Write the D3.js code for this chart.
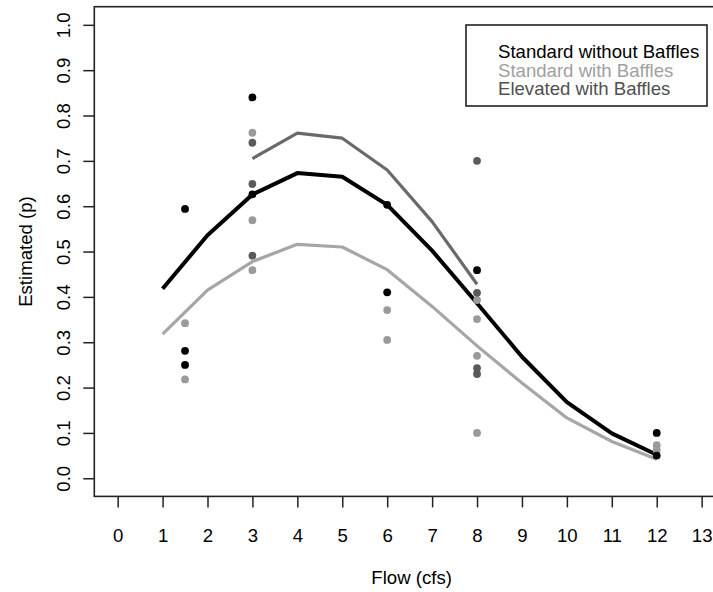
<!DOCTYPE html>
<html>
<head>
<meta charset="utf-8">
<script src="https://cdn.jsdelivr.net/npm/d3@7"></script>
<style>
  html, body { margin: 0; padding: 0; background: #fff; overflow: hidden; }
  svg { display: block; font-family: "Liberation Sans", Arial, sans-serif; }
</style>
</head>
<body>
<svg id="chart" width="713" height="592"></svg>
<script>
// ---- data ----
const flowTicks = [0,1,2,3,4,5,6,7,8,9,10,11,12,13];
const pTicks = [0.0,0.1,0.2,0.3,0.4,0.5,0.6,0.7,0.8,0.9,1.0];

const seriesNames = ["Standard without Baffles", "Standard with Baffles", "Elevated with Baffles"];

// fitted curves
const stdNoBafCurveX = [1,2,3,4,5,6,7,8,9,10,11,12];
const stdNoBafCurveY = [0.418,0.536,0.626,0.673,0.665,0.603,0.502,0.386,0.268,0.168,0.099,0.052];
const stdBafCurveX = [1,2,3,4,5,6,7,8,9,10,11,12];
const stdBafCurveY = [0.318,0.415,0.478,0.516,0.510,0.460,0.379,0.292,0.210,0.133,0.081,0.042];
const elevCurveX = [3,4,5,6,7,8];
const elevCurveY = [0.705,0.761,0.750,0.680,0.566,0.428];

// observed points
const stdNoBafPtsX = [1.5,1.5,1.5,3,3,6,6,8,12,12];
const stdNoBafPtsY = [0.594,0.281,0.250,0.840,0.626,0.603,0.410,0.459,0.100,0.050];
const stdBafPtsX = [1.5,1.5,3,3,3,6,6,8,8,8,8,12,12];
const stdBafPtsY = [0.342,0.218,0.762,0.569,0.459,0.371,0.305,0.393,0.351,0.270,0.100,0.073,0.062];
const elevPtsX = [3,3,3,8,8,8,8];
const elevPtsY = [0.740,0.649,0.491,0.700,0.409,0.243,0.230];

// ---- layout ----
const svg = d3.select("#chart");
const FS = 18.6;
const plotLeft = 94.3, plotRight = 725, plotTop = 6.7, plotBottom = 496.4;
const x = d3.scaleLinear().domain([-0.52, 13.52]).range([plotLeft, plotRight]);
const y = d3.scaleLinear().domain([-0.04, 1.04]).range([plotBottom, plotTop]);

const colors = { black: "#000000", light: "#a6a6a6", dark: "#6a6a6a" };
const ptColors = { black: "#000000", light: "#9a9a9a", dark: "#5a5a5a" };

// axes
const xAxis = d3.axisBottom(x).tickValues(flowTicks).tickFormat(d3.format("d")).tickSize(11).tickPadding(21);
const gx = svg.append("g").attr("transform", `translate(0,${plotBottom})`).call(xAxis);
gx.select(".domain").remove();
gx.selectAll(".tick line").attr("stroke", "#222").attr("stroke-width", 1.5);
gx.selectAll(".tick text").attr("font-size", FS).attr("fill", "#000").attr("font-family", "Liberation Sans, Arial, sans-serif");

const yAxis = d3.axisLeft(y).tickValues(pTicks).tickFormat(d3.format(".1f")).tickSize(11);
const gy = svg.append("g").attr("transform", `translate(${plotLeft},0)`).call(yAxis);
gy.select(".domain").remove();
gy.selectAll(".tick line").attr("stroke", "#222").attr("stroke-width", 1.5);
gy.selectAll(".tick text")
  .attr("font-size", FS).attr("fill", "#000").attr("font-family", "Liberation Sans, Arial, sans-serif")
  .attr("text-anchor", "middle").attr("dy", null).attr("x", null)
  .attr("transform", "translate(-24.5,0) rotate(-90)");

// box
svg.append("rect")
  .attr("x", plotLeft).attr("y", plotTop)
  .attr("width", plotRight - plotLeft).attr("height", plotBottom - plotTop)
  .attr("fill", "none").attr("stroke", "#222").attr("stroke-width", 1.6);

// axis titles
svg.append("text").attr("x", (plotLeft + plotRight) / 2 + 2).attr("y", 584)
  .attr("text-anchor", "middle").attr("font-size", FS).text("Flow (cfs)");
svg.append("text").attr("transform", `translate(32,${(plotTop + plotBottom) / 2}) rotate(-90)`)
  .attr("text-anchor", "middle").attr("font-size", FS).text("Estimated (p)");

// curves
const line = d3.line().x(d => x(d[0])).y(d => y(d[1]));
const curves = [
  { xs: stdBafCurveX, ys: stdBafCurveY, c: colors.light, w: 3.2 },
  { xs: elevCurveX, ys: elevCurveY, c: colors.dark, w: 3.2 },
  { xs: stdNoBafCurveX, ys: stdNoBafCurveY, c: colors.black, w: 4 }
];
curves.forEach(s => {
  svg.append("path")
    .datum(d3.zip(s.xs, s.ys))
    .attr("d", line)
    .attr("fill", "none").attr("stroke", s.c).attr("stroke-width", s.w)
    .attr("stroke-linejoin", "round");
});

// points
const pts = [
  { xs: stdBafPtsX, ys: stdBafPtsY, c: ptColors.light },
  { xs: elevPtsX, ys: elevPtsY, c: ptColors.dark },
  { xs: stdNoBafPtsX, ys: stdNoBafPtsY, c: ptColors.black }
];
pts.forEach(s => {
  svg.append("g").selectAll("circle")
    .data(d3.zip(s.xs, s.ys))
    .join("circle")
    .attr("cx", d => x(d[0])).attr("cy", d => y(d[1]))
    .attr("r", 3.9).attr("fill", s.c);
});

// legend
const legend = svg.append("g");
legend.append("rect").attr("x", 466).attr("y", 25).attr("width", 241).attr("height", 81)
  .attr("fill", "#fff").attr("stroke", "#222").attr("stroke-width", 1.6);
const legendColors = ["#000000", "#a0a0a0", "#505050"];
seriesNames.forEach((n, i) => {
  legend.append("text").attr("x", 498).attr("y", 58 + i * 18.7)
    .attr("font-size", FS).attr("fill", legendColors[i]).text(n);
});
</script>
</body>
</html>
